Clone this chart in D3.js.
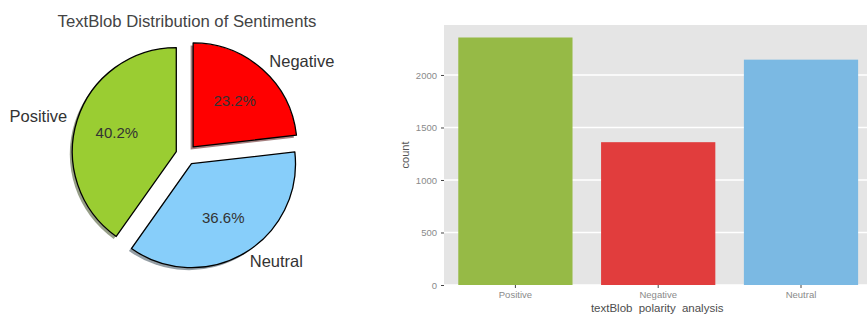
<!DOCTYPE html>
<html>
<head>
<meta charset="utf-8">
<script src="https://cdn.jsdelivr.net/npm/d3@7"></script>
<style>
  body { margin: 0; background: #fff; }
  svg { display: block; font-family: "Liberation Sans", Arial, sans-serif; }
</style>
</head>
<body>
<svg width="867" height="315"></svg>
<script>
// counts per sentiment (bar order)
var categories = ["Positive", "Negative", "Neutral"];
var counts = [2357, 1360, 2146];
// pie draws slices in this order, counter-clockwise from 12 o'clock
var pieOrder = ["Positive", "Neutral", "Negative"];
var pieColors = {Positive: "#9acd32", Negative: "#ff0000", Neutral: "#87cefa"};
var barColors = {Positive: "#96ba46", Negative: "#e13d3d", Neutral: "#7bb9e3"};
var yTicks = [0, 500, 1000, 1500, 2000];

var svg = d3.select("svg");
var total = d3.sum(counts);
var countOf = {};
categories.forEach(function(c, i) { countOf[c] = counts[i]; });

/* ---------- pie ---------- */
var cx = 186.2, cy = 154.7, r = 104, explode = 0.1;

svg.append("text")
    .attr("x", 187).attr("y", 26.5)
    .attr("text-anchor", "middle")
    .attr("font-size", "16.7px")
    .attr("fill", "#444")
    .text("TextBlob Distribution of Sentiments");

var pie = d3.pie()
    .sort(null)
    .startAngle(0)
    .endAngle(-2 * Math.PI)
    .value(function(d) { return countOf[d]; });

var arc = d3.arc().innerRadius(0).outerRadius(r);
var slices = pie(pieOrder);

slices.forEach(function(s) {
    var mid = (s.startAngle + s.endAngle) / 2;
    s.dx = Math.sin(mid);
    s.dy = -Math.cos(mid);
    s.ox = cx + s.dx * r * explode;
    s.oy = cy + s.dy * r * explode;
});

var pieG = svg.append("g");

// shadows first
pieG.selectAll(".shadow")
    .data(slices)
    .enter().append("path")
    .attr("class", "shadow")
    .attr("transform", function(d) { return "translate(" + (d.ox - 2.5) + "," + (d.oy + 2.5) + ")"; })
    .attr("d", arc)
    .attr("fill", function(d) {
        var c = d3.rgb(pieColors[d.data]);
        return d3.rgb(c.r * 0.3, c.g * 0.3, c.b * 0.3);
    })
    .attr("opacity", 0.5);

pieG.selectAll(".slice")
    .data(slices)
    .enter().append("path")
    .attr("class", "slice")
    .attr("transform", function(d) { return "translate(" + d.ox + "," + d.oy + ")"; })
    .attr("d", arc)
    .attr("fill", function(d) { return pieColors[d.data]; })
    .attr("stroke", "#000")
    .attr("stroke-width", 1.3)
    .attr("stroke-linejoin", "round");

pieG.selectAll(".plabel")
    .data(slices)
    .enter().append("text")
    .attr("class", "plabel")
    .attr("x", function(d) { return d.ox + d.dx * r * 1.1; })
    .attr("y", function(d) { return d.oy + d.dy * r * 1.1; })
    .attr("dy", "0.3em")
    .attr("text-anchor", function(d) { return d.dx < 0 ? "end" : "start"; })
    .attr("font-size", "16.5px")
    .attr("fill", "#333")
    .text(function(d) { return d.data; });

pieG.selectAll(".pct")
    .data(slices)
    .enter().append("text")
    .attr("class", "pct")
    .attr("x", function(d) { return d.ox + d.dx * r * 0.6; })
    .attr("y", function(d) { return d.oy + d.dy * r * 0.6; })
    .attr("dy", "0.36em")
    .attr("text-anchor", "middle")
    .attr("font-size", "15px")
    .attr("fill", "#333")
    .text(function(d) { return (countOf[d.data] / total * 100).toFixed(1) + "%"; });

/* ---------- bar chart ---------- */
var pLeft = 444, pTop = 25, pBottom = 285, pRight = 872.4;

var x = d3.scaleBand()
    .domain(categories)
    .range([pLeft, pRight])
    .paddingInner(0.2)
    .paddingOuter(0.1);

var y = d3.scaleLinear()
    .domain([0, 2476])
    .range([pBottom, pTop]);

svg.append("rect")
    .attr("x", pLeft).attr("y", pTop)
    .attr("width", pRight - pLeft).attr("height", pBottom - pTop)
    .attr("fill", "#e5e5e5");

svg.append("g").selectAll("line")
    .data(yTicks)
    .enter().append("line")
    .attr("x1", pLeft).attr("x2", pRight)
    .attr("y1", function(d) { return y(d); })
    .attr("y2", function(d) { return y(d); })
    .attr("stroke", "#fff")
    .attr("stroke-width", 1.3);

svg.append("g").selectAll("rect")
    .data(categories)
    .enter().append("rect")
    .attr("x", function(d) { return x(d); })
    .attr("y", function(d) { return y(countOf[d]); })
    .attr("width", x.bandwidth())
    .attr("height", function(d) { return pBottom - y(countOf[d]); })
    .attr("fill", function(d) { return barColors[d]; });

var yAxis = svg.append("g")
    .attr("transform", "translate(" + pLeft + ",0)")
    .call(d3.axisLeft(y).tickValues(yTicks).tickFormat(d3.format("d")).tickSize(3).tickPadding(4));
yAxis.select(".domain").remove();
yAxis.selectAll(".tick line").attr("stroke", "#444");
yAxis.selectAll(".tick text")
    .attr("fill", "#8a8a8a")
    .attr("font-size", "9.5px")
    .attr("font-family", "Liberation Sans, Arial, sans-serif");

var xAxis = svg.append("g")
    .attr("transform", "translate(0," + pBottom + ")")
    .call(d3.axisBottom(x).tickSize(3).tickPadding(3));
xAxis.select(".domain").remove();
xAxis.selectAll(".tick line").attr("stroke", "#444");
xAxis.selectAll(".tick text")
    .attr("fill", "#8a8a8a")
    .attr("font-size", "9.5px")
    .attr("font-family", "Liberation Sans, Arial, sans-serif");

svg.append("text")
    .attr("transform", "translate(409,155) rotate(-90)")
    .attr("text-anchor", "middle")
    .attr("font-size", "11px")
    .attr("fill", "#555")
    .text("count");

svg.append("text")
    .attr("x", (pLeft + pRight) / 2 - 1)
    .attr("y", 312)
    .attr("text-anchor", "middle")
    .attr("font-size", "11.5px")
    .attr("word-spacing", "3px")
    .attr("fill", "#4d4d4d")
    .text("textBlob polarity analysis");
</script>
</body>
</html>
